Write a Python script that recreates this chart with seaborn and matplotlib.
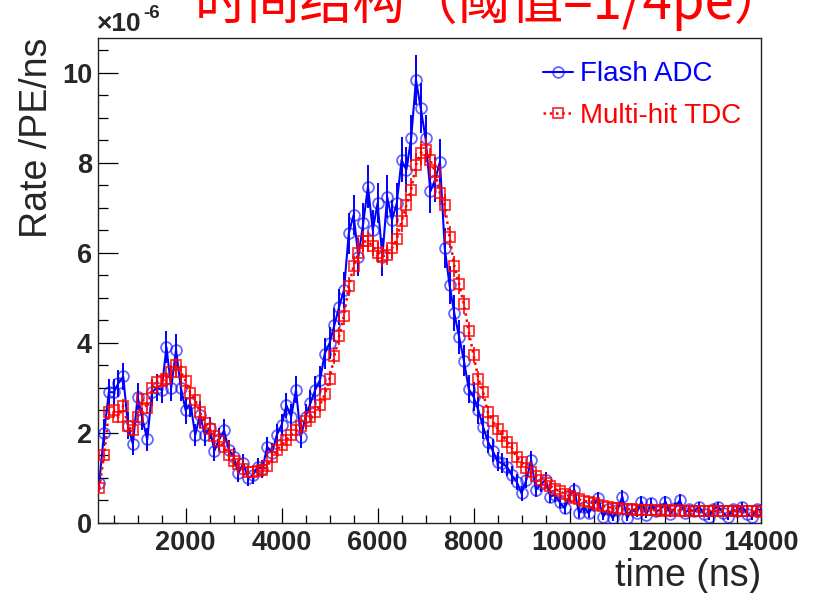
import numpy as np
import pandas as pd
import matplotlib
matplotlib.use("Agg")
import matplotlib.pyplot as plt
import seaborn as sns
from matplotlib.ticker import MultipleLocator

# bin centres (ns)
time_ns = np.arange(200, 14001, 100)

# Flash ADC rate (x 1e-6 /PE/ns)
flash_adc = [
    0.88, 2.0, 2.9, 2.9, 3.1, 3.25, 2.15, 1.75, 2.8, 2.3,
    1.85, 2.9, 3.0, 2.95, 3.9, 3.0, 3.84, 3.0, 2.5, 2.65,
    1.95, 2.4, 1.95, 2.1, 1.6, 1.85, 2.05, 1.62, 1.47, 1.1,
    1.32, 1.0, 1.05, 1.24, 1.2, 1.69, 1.55, 1.95, 2.17, 2.61,
    2.36, 2.95, 1.91, 2.36, 2.65, 2.95, 3.17, 3.76, 3.99, 4.39,
    4.8, 5.17, 6.43, 6.84, 5.91, 6.65, 7.47, 6.5, 7.1, 5.91,
    7.24, 6.73, 7.1, 8.06, 7.84, 8.54, 9.84, 9.21, 8.54, 7.36,
    7.62, 8.02, 6.1, 5.28, 4.65, 4.13, 3.6, 2.97, 2.8, 2.5,
    2.13, 1.8, 1.6, 1.36, 1.32, 1.24, 1.05, 0.91, 0.65, 0.95,
    1.39, 0.73, 0.85, 0.95, 0.58, 0.62, 0.45, 0.32, 0.6, 0.73,
    0.21, 0.35, 0.21, 0.4, 0.54, 0.13, 0.3, 0.1, 0.28, 0.58,
    0.1, 0.3, 0.22, 0.47, 0.18, 0.43, 0.25, 0.3, 0.47, 0.2,
    0.33, 0.5, 0.22, 0.3, 0.25, 0.36, 0.2, 0.13, 0.3, 0.36,
    0.22, 0.13, 0.3, 0.25, 0.36, 0.2, 0.13, 0.3, 0.28,
]
flash_adc_err = [
    0.15, 0.3, 0.3, 0.3, 0.3, 0.3, 0.3, 0.25, 0.3, 0.25,
    0.25, 0.3, 0.3, 0.3, 0.35, 0.3, 0.35, 0.3, 0.3, 0.3,
    0.25, 0.3, 0.25, 0.25, 0.22, 0.25, 0.25, 0.22, 0.2, 0.2,
    0.2, 0.18, 0.18, 0.2, 0.2, 0.22, 0.22, 0.25, 0.25, 0.28,
    0.28, 0.3, 0.25, 0.28, 0.3, 0.3, 0.32, 0.35, 0.35, 0.38,
    0.4, 0.4, 0.45, 0.45, 0.42, 0.45, 0.48, 0.45, 0.45, 0.42,
    0.48, 0.45, 0.45, 0.5, 0.5, 0.52, 0.55, 0.55, 0.52, 0.48,
    0.5, 0.5, 0.45, 0.42, 0.4, 0.38, 0.35, 0.32, 0.32, 0.3,
    0.28, 0.26, 0.25, 0.22, 0.22, 0.2, 0.2, 0.18, 0.16, 0.18,
    0.2, 0.16, 0.17, 0.18, 0.15, 0.15, 0.13, 0.12, 0.15, 0.16,
    0.1, 0.12, 0.1, 0.12, 0.14, 0.08, 0.11, 0.07, 0.1, 0.14,
    0.07, 0.1, 0.09, 0.13, 0.08, 0.12, 0.09, 0.1, 0.13, 0.08,
    0.11, 0.13, 0.09, 0.1, 0.09, 0.11, 0.08, 0.07, 0.1, 0.11,
    0.09, 0.07, 0.1, 0.09, 0.11, 0.08, 0.07, 0.1, 0.1,
]

# Multi-hit TDC rate (x 1e-6 /PE/ns)
multihit_tdc = [
    0.77, 1.5, 2.45, 2.5, 2.35, 2.6, 2.15, 2.05, 2.35, 2.75,
    2.55, 3.0, 3.12, 3.15, 3.2, 3.35, 3.5, 3.35, 3.15, 2.88,
    2.72, 2.45, 2.22, 2.08, 1.93, 1.82, 1.68, 1.5, 1.38, 1.3,
    1.2, 1.12, 1.12, 1.15, 1.17, 1.25, 1.45, 1.62, 1.72, 1.84,
    1.95, 2.05, 2.15, 2.25, 2.36, 2.45, 2.62, 2.85, 3.2, 3.7,
    4.15, 4.6, 5.25, 5.7, 6.0, 6.25, 6.25, 6.15, 6.0, 5.92,
    5.95, 6.1, 6.3, 6.7, 7.05, 7.4, 7.95, 8.22, 8.28, 8.05,
    7.8, 7.32, 7.05, 6.35, 5.7, 5.3, 4.85, 4.25, 3.72, 3.2,
    2.9, 2.45, 2.25, 2.08, 1.93, 1.8, 1.66, 1.45, 1.35, 1.22,
    1.12, 1.03, 0.96, 0.89, 0.82, 0.75, 0.7, 0.64, 0.59, 0.56,
    0.52, 0.49, 0.46, 0.43, 0.39, 0.37, 0.35, 0.33, 0.32, 0.31,
    0.3, 0.3, 0.29, 0.29, 0.28, 0.28, 0.28, 0.27, 0.28, 0.27,
    0.28, 0.27, 0.27, 0.26, 0.27, 0.27, 0.26, 0.26, 0.27, 0.26,
    0.26, 0.25, 0.26, 0.25, 0.26, 0.25, 0.25, 0.25, 0.24,
]
multihit_tdc_err = [
    0.08, 0.12, 0.14, 0.14, 0.14, 0.14, 0.13, 0.13, 0.13, 0.14,
    0.14, 0.15, 0.15, 0.15, 0.15, 0.16, 0.16, 0.16, 0.15, 0.15,
    0.14, 0.14, 0.13, 0.13, 0.12, 0.12, 0.12, 0.11, 0.11, 0.1,
    0.1, 0.1, 0.1, 0.1, 0.1, 0.1, 0.11, 0.12, 0.12, 0.13,
    0.13, 0.13, 0.14, 0.14, 0.14, 0.15, 0.15, 0.16, 0.17, 0.18,
    0.19, 0.2, 0.21, 0.22, 0.23, 0.23, 0.23, 0.23, 0.23, 0.23,
    0.23, 0.23, 0.24, 0.24, 0.25, 0.26, 0.27, 0.27, 0.27, 0.27,
    0.26, 0.26, 0.25, 0.24, 0.23, 0.22, 0.21, 0.2, 0.18, 0.17,
    0.16, 0.15, 0.14, 0.14, 0.13, 0.13, 0.12, 0.12, 0.11, 0.11,
    0.1, 0.1, 0.09, 0.09, 0.09, 0.08, 0.08, 0.08, 0.07, 0.07,
    0.07, 0.07, 0.06, 0.06, 0.06, 0.06, 0.06, 0.05, 0.05, 0.05,
    0.05, 0.05, 0.05, 0.05, 0.05, 0.05, 0.05, 0.05, 0.05, 0.05,
    0.05, 0.05, 0.05, 0.05, 0.05, 0.05, 0.05, 0.05, 0.05, 0.05,
    0.05, 0.05, 0.05, 0.05, 0.05, 0.05, 0.05, 0.05, 0.05,
]

series_labels = ["Flash ADC", "Multi-hit TDC"]
x_ticks = [2000, 4000, 6000, 8000, 10000, 12000, 14000]
y_ticks = [0, 2, 4, 6, 8, 10]

df = pd.DataFrame({
    "time": time_ns,
    "adc": flash_adc, "adc_err": flash_adc_err,
    "tdc": multihit_tdc, "tdc_err": multihit_tdc_err,
})

sns.set_style("ticks")
plt.rcParams["font.family"] = ["Liberation Sans", "DejaVu Sans"]
plt.rcParams["font.weight"] = "bold"

fig = plt.figure(figsize=(8.15, 5.93), dpi=100)
ax = fig.add_axes([0.1206, 0.1185, 0.8137, 0.8174])

BLUE = (0, 0, 1)
RED = (1, 0, 0)

ax.vlines(df["time"], df["adc"] - df["adc_err"], df["adc"] + df["adc_err"],
          color=BLUE, lw=1.4, zorder=2)
sns.lineplot(data=df, x="time", y="adc", ax=ax, color=BLUE, lw=1.5,
             marker="o", markersize=7.8, markerfacecolor="none",
             markeredgecolor=(0, 0, 1, 0.6), markeredgewidth=1.3,
             label=series_labels[0], zorder=3, errorbar=None, sort=False)

ax.vlines(df["time"], df["tdc"] - df["tdc_err"], df["tdc"] + df["tdc_err"],
          color=RED, lw=1.2, zorder=4)
sns.lineplot(data=df, x="time", y="tdc", ax=ax, color=RED, lw=1.8,
             linestyle=(0, (1, 1.5)),
             marker="s", markersize=7.2, markerfacecolor="none",
             markeredgecolor=(1, 0, 0, 0.8), markeredgewidth=1.3,
             label=series_labels[1], zorder=5, errorbar=None, sort=False)

ax.set_xlim(180, 14000)
ax.set_ylim(0, 10.77)
ax.set_xticks(x_ticks)
ax.set_yticks(y_ticks)
ax.xaxis.set_minor_locator(MultipleLocator(500))
ax.yaxis.set_minor_locator(MultipleLocator(0.5))
ax.tick_params(axis="both", which="both", direction="in", top=False, right=False,
               width=0.9, color="black")
ax.tick_params(axis="x", which="major", length=10.8, pad=5, labelsize=19.5)
ax.tick_params(axis="x", which="minor", length=5.5)
ax.tick_params(axis="y", which="major", length=14.4, pad=4.5, labelsize=19.5)
ax.tick_params(axis="y", which="minor", length=7.2)
for sp in ax.spines.values():
    sp.set_visible(True)
    sp.set_linewidth(1.0)
    sp.set_color("#222222")

ax.set_xlabel("time (ns)", loc="right", fontsize=27, fontweight="normal", labelpad=2)
ax.set_ylabel("Rate /PE/ns", loc="top", fontsize=27, fontweight="normal", labelpad=5)

leg = ax.legend(loc="upper left", bbox_to_anchor=(0.670, 0.952), frameon=False,
                prop={"size": 20, "weight": "normal", "family": "Liberation Sans"},
                handlelength=1.1, handletextpad=0.25, labelspacing=0.55,
                borderpad=0, borderaxespad=0, labelcolor="linecolor", numpoints=1)

fig.text(97 / 815, 1 - 31 / 593, "\u00d710", fontsize=19, fontweight="bold",
         va="baseline", ha="left")
fig.text(143 / 815, 1 - 18 / 593, "-6", fontsize=13.5, fontweight="bold",
         va="baseline", ha="left")

fig.text(0.603, 1 - 19 / 593, "时间结构（阈值=1/4pe）", color="red", fontsize=38,
         ha="center", va="baseline", fontweight="normal",
         family=["Noto Sans CJK SC", "DejaVu Sans"])

fig.savefig("out.png", dpi=100)
